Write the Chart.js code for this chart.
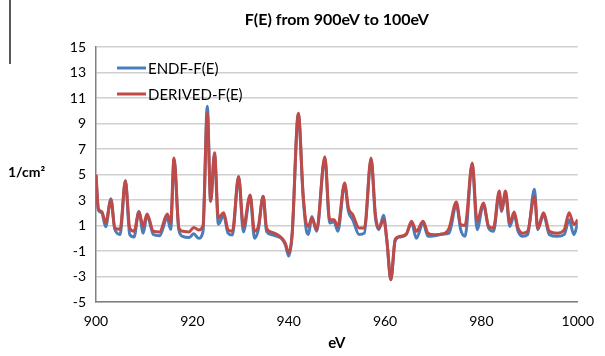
<!DOCTYPE html>
<html>
<head>
<meta charset="utf-8">
<script src="https://cdn.jsdelivr.net/npm/chart.js@4.4.0/dist/chart.umd.min.js"></script>
<style>
    body { margin: 0; background: #fff; }
    #wrap { width: 605px; height: 356px; }
</style>
</head>
<body>
<div id="wrap"><canvas id="myChart"></canvas></div>
<script>
// jshint esversion:6

var energy = [900.0, 900.5, 901.2, 902.0, 903.1, 903.9, 905.0, 906.1, 907.0, 907.9,
    908.9, 909.8, 910.6, 911.9, 913.2, 914.8, 915.5, 916.2, 917.2, 918.0,
    919.3, 920.3, 921.3, 922.2, 923.1, 923.8, 924.6, 925.4, 926.5, 927.4,
    928.3, 929.6, 930.6, 932.0, 932.9, 933.7, 934.7, 935.4, 936.3, 937.6,
    938.6, 939.3, 940.0, 940.7, 942.0, 943.0, 943.7, 944.1, 944.8, 945.8,
    947.5, 948.5, 949.4, 950.2, 951.6, 952.4, 953.3, 954.6, 955.7, 957.1,
    958.0, 958.7, 959.7, 960.4, 961.2, 962.1, 963.1, 964.4, 965.5, 966.5,
    967.9, 968.9, 970.3, 972.0, 973.3, 974.8, 975.7, 976.6, 978.1, 979.1,
    980.4, 981.5, 982.5, 983.7, 984.2, 985.0, 985.9, 986.8, 987.6, 988.6,
    989.6, 991.0, 991.7, 992.9, 994.1, 995.8, 997.2, 998.2, 999.2, 1000.0];

var endfValues = [4.9, 2.2, 2.0, 0.9, 3.1, 0.7, 0.3, 4.5, 0.3, 0.1,
    2.1, 0.4, 1.8, 0.3, 0.2, 1.6, 0.7, 6.2, 0.65, 0.15,
    0.05, 0.35, 0.0, 0.5, 10.35, 2.9, 6.55, 1.1, 1.8, 0.4,
    0.25, 4.8, 0.5, 3.3, 0.0, 0.7, 3.3, 0.55, 0.3, 0.15,
    -0.05, -0.5, -1.4, 0.2, 9.7, 3.2, 0.55, 0.3, 1.7, 0.55,
    6.3, 1.2, 1.3, 0.55, 4.2, 2.1, 1.45, 0.3, 0.4, 6.2,
    1.6, 0.67, 1.8, -0.3, -3.25, -0.2, 0.1, 0.3, 1.2, 0.0,
    1.2, 0.15, 0.2, 0.33, 0.4, 2.65, 0.67, 0.15, 5.8, 0.67,
    2.65, 0.8, 0.55, 3.45, 2.1, 3.45, 0.93, 1.85, 0.55, 0.15,
    0.3, 3.85, 0.67, 1.85, 0.28, 0.15, 0.3, 1.45, 0.28, 1.2];

var derivedValues = [5.0, 2.3, 2.1, 1.2, 3.0, 0.8, 0.7, 4.5, 0.8, 0.55,
    2.05, 0.95, 1.9, 0.55, 0.5, 1.9, 1.2, 6.3, 0.8, 0.55,
    0.5, 0.85, 0.65, 0.95, 9.8, 2.9, 6.7, 1.6, 2.0, 0.67,
    0.55, 4.85, 0.93, 3.4, 0.55, 0.93, 3.3, 0.8, 0.5, 0.3,
    0.0, -0.4, -1.15, 0.3, 9.8, 3.4, 1.07, 0.93, 1.6, 0.67,
    6.4, 1.45, 1.45, 0.93, 4.33, 2.37, 1.85, 0.8, 0.8, 6.3,
    1.85, 0.8, 1.45, -0.25, -3.25, -0.1, 0.15, 0.33, 1.33, 0.55,
    1.33, 0.4, 0.28, 0.33, 0.8, 2.85, 1.07, 1.0, 5.9, 1.33,
    2.77, 0.93, 0.8, 3.7, 2.24, 3.7, 1.2, 2.05, 0.8, 0.4,
    0.55, 3.3, 0.8, 2.0, 0.55, 0.4, 0.67, 2.0, 1.07, 1.45];

var seriesNames = ["ENDF-F(E)", "DERIVED-F(E)"];
var yTicks = [-5, -3, -1, 1, 3, 5, 7, 9, 11, 13, 15];
var xTicks = [900, 920, 940, 960, 980, 1000];

var blue = "#4a7ebb";
var red = "#be4b48";

function toPoints(values) {
    var pts = [];
    for (var i = 0; i < energy.length; i++) {
        pts.push({ x: energy[i], y: values[i] });
    }
    return pts;
}

// title, legend inside the plot, horizontal y-title and the stray line at the left edge
var extras = {
    id: "extras",
    afterDraw: (chart) => {
        var ctx = chart.ctx;
        var area = chart.chartArea;
        ctx.save();
        ctx.fillStyle = "#000";
        ctx.textBaseline = "middle";
        ctx.textAlign = "center";
        ctx.font = "bold 16px Lato";
        ctx.fillText("F(E) from 900eV to 100eV", (area.left + area.right) / 2, 20);

        ctx.textAlign = "left";
        ctx.font = "bold 14px Lato";
        ctx.fillText("1/cm\u00B2", 8, (area.top + area.bottom) / 2 - 2);

        var colors = [blue, red];
        ctx.font = "15px Lato";
        ctx.lineWidth = 3;
        for (var i = 0; i < seriesNames.length; i++) {
            var ly = area.top + 21 + i * 26;
            ctx.strokeStyle = colors[i];
            ctx.beginPath();
            ctx.moveTo(area.left + 21, ly);
            ctx.lineTo(area.left + 50, ly);
            ctx.stroke();
            ctx.fillStyle = "#000";
            ctx.fillText(seriesNames[i], area.left + 52, ly + 1);
        }

        ctx.strokeStyle = "#222";
        ctx.lineWidth = 1.5;
        ctx.beginPath();
        ctx.moveTo(10, 0);
        ctx.lineTo(10, 64);
        ctx.stroke();
        ctx.restore();
    }
};

var chart = new Chart(document.getElementById("myChart"), {
    type: "line",
    data: {
        datasets: [{
            label: seriesNames[1],
            data: toPoints(derivedValues),
            borderColor: red,
            backgroundColor: red,
            borderWidth: 3,
            pointRadius: 0,
            cubicInterpolationMode: "monotone"
        }, {
            label: seriesNames[0],
            data: toPoints(endfValues),
            borderColor: blue,
            backgroundColor: blue,
            borderWidth: 3,
            pointRadius: 0,
            cubicInterpolationMode: "monotone"
        }]
    },
    options: {
        responsive: true,
        maintainAspectRatio: false,
        animation: false,
        layout: {
            padding: { left: 56, right: 19, top: 47, bottom: 0 }
        },
        plugins: {
            title: { display: false },
            tooltip: { enabled: false },
            legend: { display: false }
        },
        scales: {
            x: {
                type: "linear",
                min: 900,
                max: 1000,
                afterBuildTicks: (s) => { s.ticks = xTicks.map((v) => ({ value: v })); },
                afterFit: (s) => { s.height = 54; },
                grid: { display: false, drawTicks: false },
                border: { color: "#808080", width: 1.5 },
                ticks: {
                    padding: 11,
                    color: "#000",
                    font: { family: "Lato", size: 14 },
                    callback: (v) => String(v)
                },
                title: {
                    display: true,
                    text: "eV",
                    color: "#000",
                    font: { family: "Lato", size: 15, weight: "bold" },
                    padding: { top: 4 }
                }
            },
            y: {
                min: -5,
                max: 15,
                afterBuildTicks: (s) => { s.ticks = yTicks.map((v) => ({ value: v })); },
                afterFit: (s) => { s.width = 40; },
                grid: { color: "#d0d0d0", lineWidth: 1.5, drawTicks: false },
                border: { color: "#808080", width: 1.5 },
                ticks: {
                    padding: 10,
                    color: "#000",
                    font: { family: "Lato", size: 14 },
                    callback: (v) => String(v)
                }
            }
        }
    },
    plugins: [extras]
});
</script>
</body>
</html>
